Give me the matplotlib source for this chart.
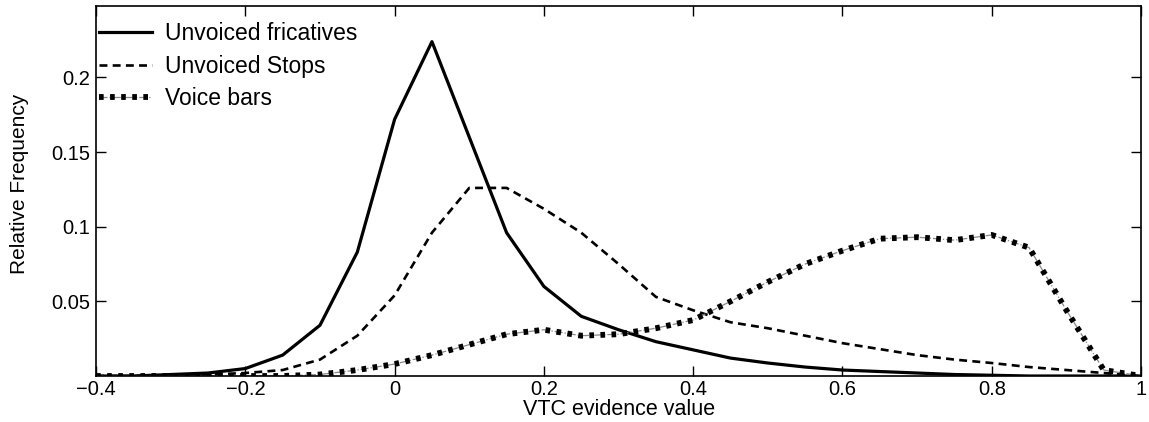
import numpy as np
import matplotlib
matplotlib.use("Agg")
import matplotlib.pyplot as plt
from matplotlib.legend_handler import HandlerTuple

plt.rcParams['font.family'] = ['Liberation Sans', 'DejaVu Sans']

# VTC evidence bins
x = [-0.4, -0.35, -0.3, -0.25, -0.2, -0.15, -0.1, -0.05, 0.0, 0.05, 0.1, 0.15,
     0.2, 0.25, 0.3, 0.35, 0.4, 0.45, 0.5, 0.55, 0.6, 0.65, 0.7, 0.75, 0.8,
     0.85, 0.9, 0.95, 1.0]

fricatives = [0.0, 0.0, 0.001, 0.002, 0.005, 0.014, 0.034, 0.083, 0.172, 0.224,
              0.160, 0.096, 0.060, 0.040, 0.031, 0.023, 0.0175, 0.012, 0.0087,
              0.006, 0.004, 0.003, 0.002, 0.001, 0.0005, 0.0, 0.0, 0.0, 0.0]

stops = [0.0, 0.0, 0.0005, 0.001, 0.002, 0.004, 0.011, 0.027, 0.054, 0.096,
         0.126, 0.126, 0.112, 0.096, 0.075, 0.053, 0.044, 0.036, 0.032, 0.027,
         0.022, 0.018, 0.014, 0.011, 0.0087, 0.006, 0.004, 0.002, 0.0]

voice_bars = [0.0, 0.0, 0.0, 0.0, 0.0, 0.0, 0.001, 0.004, 0.008, 0.014, 0.021,
              0.028, 0.031, 0.027, 0.028, 0.032, 0.0375, 0.050, 0.063, 0.075,
              0.084, 0.092, 0.093, 0.091, 0.0945, 0.086, 0.044, 0.004, 0.0]

xticks = [-0.4, -0.2, 0, 0.2, 0.4, 0.6, 0.8, 1]
xticklabels = ['\u22120.4', '\u22120.2', '0', '0.2', '0.4', '0.6', '0.8', '1']
yticks = [0.05, 0.1, 0.15, 0.2]
yticklabels = ['0.05', '0.1', '0.15', '0.2']

fig = plt.figure(figsize=(11.49, 4.22), dpi=100)
ax = fig.add_axes([0.0836, 0.109, 0.9095, 0.8772])

l1, = ax.plot(x, fricatives, color='black', lw=2.3, ls='-')
l2, = ax.plot(x, stops, color='black', lw=1.9, ls=(0, (3.0, 2.0)))
l3a, = ax.plot(x, voice_bars, color='#888888', lw=0.9, ls='-.')
l3b, = ax.plot(x, voice_bars, color='black', lw=4.2, ls=(0, (0.8, 1.1)))

ax.set_xlim(-0.4, 1.0)
ax.set_ylim(0, 0.248)
ax.set_xticks(xticks)
ax.set_xticklabels(xticklabels)
ax.set_yticks(yticks)
ax.set_yticklabels(yticklabels)
ax.tick_params(direction='in', length=7, width=1, labelsize=14.5,
               top=True, right=True)
ax.tick_params(axis='x', pad=3)
ax.tick_params(axis='y', pad=4)
for s in ax.spines.values():
    s.set_linewidth(1.2)

ax.set_xlabel('VTC evidence value', fontsize=15.5)
ax.xaxis.set_label_coords(0.5, -0.063)
ax.set_ylabel('Relative Frequency', fontsize=15)
ax.yaxis.set_label_coords(-0.064, 0.519)

ax.legend([l1, l2, (l3a, l3b)],
          ['Unvoiced fricatives', 'Unvoiced Stops', 'Voice bars'],
          handler_map={tuple: HandlerTuple(ndivide=1)},
          loc='upper left', frameon=False, fontsize=16.5,
          handlelength=2.3, handletextpad=0.55, labelspacing=0.42,
          borderpad=0.15, borderaxespad=0.0, bbox_to_anchor=(0.0, 0.965))

fig.savefig('out.png', dpi=100)
